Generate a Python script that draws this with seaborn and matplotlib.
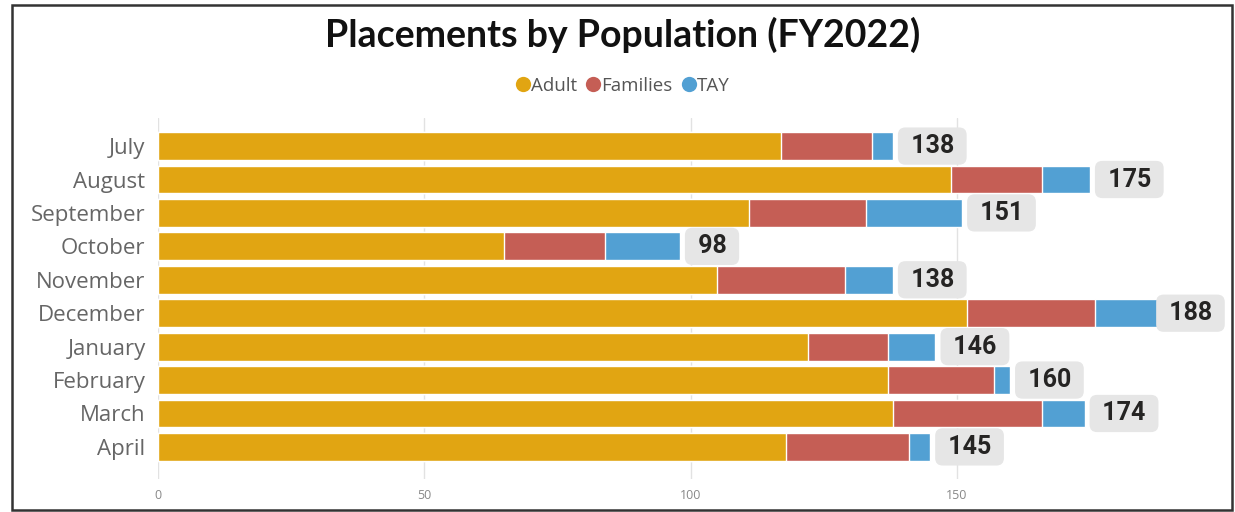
import matplotlib.pyplot as plt
from matplotlib.patches import Rectangle
from matplotlib.lines import Line2D
import numpy as np
import pandas as pd
import seaborn as sns

# Data
months = ['July', 'August', 'September', 'October', 'November', 'December',
          'January', 'February', 'March', 'April']
adult = [117, 149, 111, 65, 105, 152, 122, 137, 138, 118]
families = [17, 17, 22, 19, 24, 24, 15, 20, 28, 23]
tay = [4, 9, 18, 14, 9, 12, 9, 3, 8, 4]

series = ['Adult', 'Families', 'TAY']
colors = {'Adult': '#E1A512', 'Families': '#C55E55', 'TAY': '#52A0D3'}

df = pd.DataFrame({'month': months, 'Adult': adult, 'Families': families, 'TAY': tay})
df['cum_families'] = df['Adult'] + df['Families']
df['total'] = df['cum_families'] + df['TAY']

sns.set_theme(style='white')
plt.rcParams['font.family'] = ['Open Sans', 'DejaVu Sans']

W, H = 1235, 512
fig = plt.figure(figsize=(W / 100, H / 100), dpi=100)
ax = fig.add_axes([158 / W, 1 - 479 / H, (1223 - 158) / W, (479 - 118) / H])

# stacked bars: draw cumulative totals from the largest down
for col, name in [('total', 'TAY'), ('cum_families', 'Families'), ('Adult', 'Adult')]:
    sns.barplot(data=df, x=col, y='month', orient='h', color=colors[name],
                saturation=1, width=0.83, ax=ax, zorder=2)

# total labels in rounded grey boxes (kept inside the plot area near the edge)
for i, tot in enumerate(df['total']):
    ax.annotate(f' {tot} ', xy=(min(tot, 186.5), i), xytext=(8.4, 0),
                textcoords='offset points',
                ha='left', va='center', fontsize=18, fontweight='bold',
                family=['Roboto', 'DejaVu Sans'], color='#252423',
                bbox=dict(boxstyle='round,pad=0.265,rounding_size=0.3',
                          fc='#E6E6E6', ec='none'), zorder=4)

ax.set_xlim(0, 200)
ax.set_ylim(9.96, -0.84)
ax.set_xticks([0, 50, 100, 150])
ax.tick_params(axis='x', labelsize=9, colors='#888888', length=0, pad=7)
ax.tick_params(axis='y', labelsize=16, colors='#666666', length=0, pad=9)
ax.set_xlabel('')
ax.set_ylabel('')
ax.grid(axis='x', color='#E2E2E2', linewidth=1, zorder=0)
ax.set_axisbelow(True)
for s in ax.spines.values():
    s.set_visible(False)

fig.text(623 / W, 1 - 35 / H, 'Placements by Population (FY2022)',
         ha='center', va='center', fontsize=27, fontweight='bold',
         family=['Lato', 'DejaVu Sans'], color='#111111')

handles = [Line2D([], [], marker='o', linestyle='none', markersize=11,
                  markerfacecolor=colors[s], markeredgecolor='none') for s in series]
fig.legend(handles, series, loc='center', bbox_to_anchor=(622 / W, 1 - 86 / H),
           ncol=3, frameon=False, fontsize=13.5, labelcolor='#555555',
           handletextpad=0.0, columnspacing=0.4, handlelength=0.9)

# outer frame
fig.patches.append(Rectangle((12 / W, 2 / H), 1220 / W, 505 / H,
                             transform=fig.transFigure, fill=False,
                             edgecolor='#333333', linewidth=1.8))

fig.savefig('out.png', dpi=100)
